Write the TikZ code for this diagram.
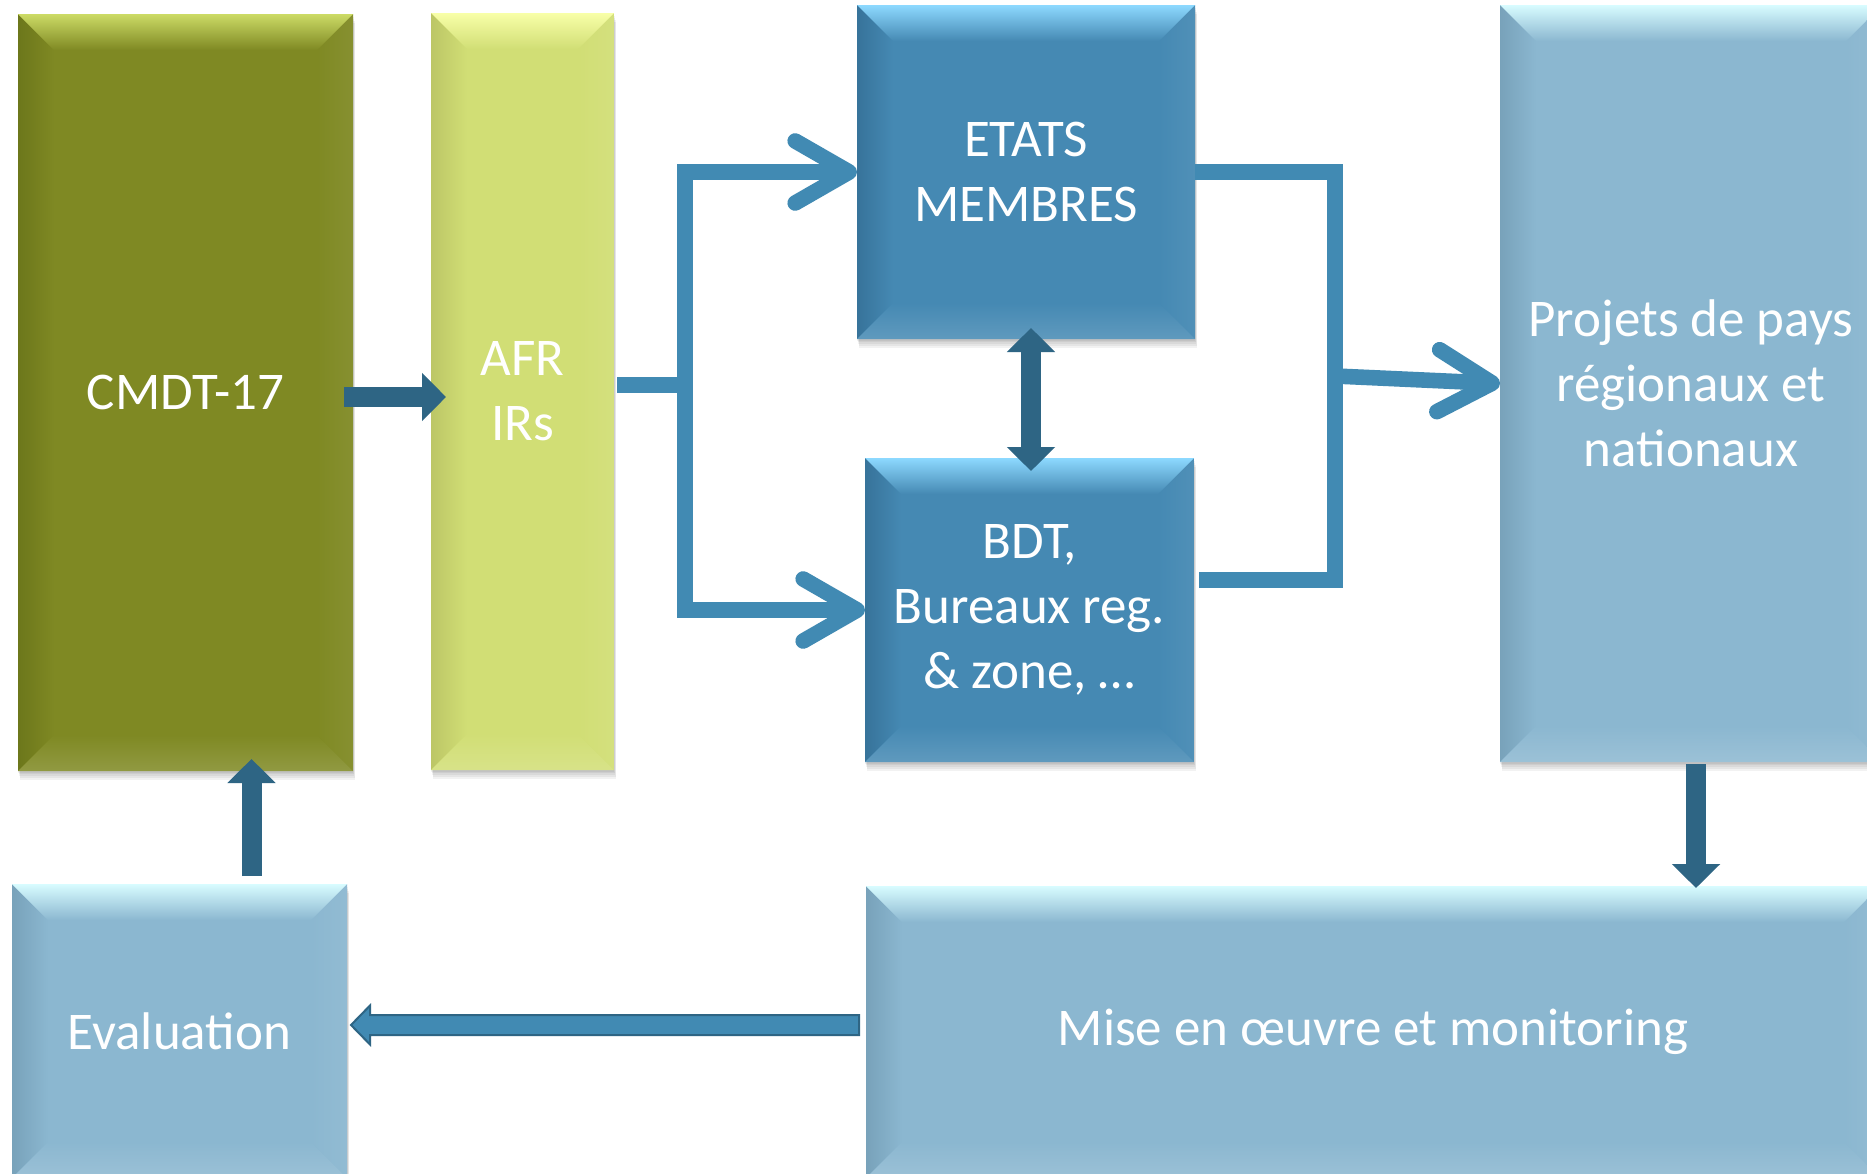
\documentclass[tikz,border=0pt]{standalone}
\usepackage{fontspec}
\setmainfont{Carlito}
\usetikzlibrary{arrows.meta,calc,backgrounds}
\definecolor{oliveM}{HTML}{7F8923}
\definecolor{oliveL}{HTML}{CCDB66}
\definecolor{oliveD}{HTML}{6C771B}
\definecolor{limeM}{HTML}{D1DE75}
\definecolor{limeL}{HTML}{F8FFA8}
\definecolor{limeD}{HTML}{BCC666}
\definecolor{dblueM}{HTML}{4589B3}
\definecolor{dblueL}{HTML}{8DD9FF}
\definecolor{dblueD}{HTML}{37739A}
\definecolor{lblueM}{HTML}{8BB7D0}
\definecolor{lblueL}{HTML}{D8FCFF}
\definecolor{lblueD}{HTML}{78A2BA}
\definecolor{connC}{HTML}{418AB3}
\definecolor{blkC}{HTML}{2E6584}
\newcommand\bvs{18pt}
\tikzset{
  lab/.style={font=\fontsize{26.5}{32.5}\selectfont, text=white, align=center},
  box/.style n args={3}{rectangle, inner sep=0pt, outer sep=0pt, fill=#1, lab,
    path picture={
      \coordinate (bvA) at (path picture bounding box.north west);
      \coordinate (bvC) at (path picture bounding box.south east);
      \coordinate (bvB) at (bvC|-bvA);
      \coordinate (bvD) at (bvA|-bvC);
      \shade[left color=#3, right color=#1] (bvA) -- ($(bvA)+(\bvs,-\bvs)$) -- ($(bvD)+(\bvs,\bvs)$) -- (bvD) -- cycle;
      \shade[left color=#1, right color=#1!94!white] (bvB) -- ($(bvB)+(-\bvs,-\bvs)$) -- ($(bvC)+(-\bvs,\bvs)$) -- (bvC) -- cycle;
      \shade[top color=#2, bottom color=#1] (bvA) -- (bvB) -- ($(bvB)+(-\bvs,-\bvs)$) -- ($(bvA)+(\bvs,-\bvs)$) -- cycle;
      \shade[top color=#1, bottom color=#1!86!white] (bvD) -- (bvC) -- ($(bvC)+(-\bvs,\bvs)$) -- ($(bvD)+(\bvs,\bvs)$) -- cycle;
    }},
  conn/.style={draw=connC, line width=7.8pt},
  chevarrow/.style={-{Straight Barb[length=27pt,width=31pt,round]}},
  blk/.style={draw=blkC, line width=10pt},
  tri/.style={-{Triangle[length=12pt,width=23.5pt]}},
  dtri/.style={{Triangle[length=12pt,width=23.5pt]}-{Triangle[length=12pt,width=23.5pt]}},
  outarrow/.style={fill=connC, draw=blkC, line width=1pt, line join=miter}
}
\begin{document}
\begin{tikzpicture}[x=0.5pt,y=-0.5pt]
\useasboundingbox (0,0) rectangle (1867,1173);
\clip (0,0) rectangle (1867,1173);

\node[box={oliveM}{oliveL}{oliveD}, minimum width=167.5pt, minimum height=378.5pt] (cmdt) at (185.5,392.5) {CMDT-17};
\node[box={limeM}{limeL}{limeD}, minimum width=91.5pt, minimum height=378.5pt] (afr) at (522.5,391.5) {AFR\\IRs};
\node[box={dblueM}{dblueL}{dblueD}, minimum width=169pt, minimum height=167pt] (etats) at (1026,172) {ETATS\\MEMBRES};
\node[box={dblueM}{dblueL}{dblueD}, minimum width=164.5pt, minimum height=152pt] (bdt) at (1029.5,610) {BDT,\\Bureaux reg.\\\& zone, …};
\node[box={lblueM}{lblueL}{lblueD}, minimum width=191pt, minimum height=378.5pt] (projets) at (1691,383.5) {Projets de pays\\régionaux et\\nationaux};
\node[box={lblueM}{lblueL}{lblueD}, minimum width=167.5pt, minimum height=147pt] (eval) at (179.5,1031) {Evaluation};
\node[box={lblueM}{lblueL}{lblueD}, minimum width=507pt, minimum height=146pt] (mise) at (1373,1032) {Mise en œuvre et monitoring};

\begin{scope}[on background layer]
  \fill[white] (0,0) rectangle (1867,1173);
  \foreach \n in {cmdt,afr,etats,bdt,projets,eval,mise}{
    \foreach \k in {1,...,5}{
      \fill[black, opacity=0.05] ([shift={(\k*0.4,\k*1.7)}]\n.north west) rectangle ([shift={(\k*0.4,\k*1.7)}]\n.south east);
    }
  }
\end{scope}

% thin connectors
\coordinate (jL) at (685,385);
\coordinate (jR) at (1335,376);
\coordinate (jRb) at (1335,580);
\draw[conn] ([xshift=1.5pt]afr.east |- jL) -- (jL);
\draw[conn, chevarrow] (jL) |- (etats.west);
\draw[conn, chevarrow] (jL) |- (bdt.west);
\draw[conn] (etats.east) -| (jRb) -- ([xshift=2.5pt]bdt.east |- jRb);
\draw[conn, chevarrow] (jR) -- (projets.west);

% block arrows
\draw[blk, tri] ([shift={(-9,4.5)}]cmdt.east) -- ([shift={(15,5.5)}]afr.west);
\draw[blk, dtri] ([shift={(5,-11)}]etats.south) -- ([shift={(1.5,13)}]bdt.north);
\draw[blk, tri] ([shift={(72,-8)}]eval.north) -- ([shift={(66,-12)}]cmdt.south);
\draw[blk, tri] ([shift={(5,2)}]projets.south) -- ([shift={(323,2)}]mise.north);

% outlined arrow from mise to eval
\coordinate (hT) at ([shift={(4,-6)}]eval.east);
\coordinate (hS) at ([shift={(-7,-7)}]mise.west);
\draw[outarrow] (hT) -- ($(hT)+(19,-19.5)$) -- ($(hT)+(19,-10)$) -- ($(hS)+(0,-10)$) -- ($(hS)+(0,10)$) -- ($(hT)+(19,10)$) -- ($(hT)+(19,19.5)$) -- cycle;
\end{tikzpicture}
\end{document}
